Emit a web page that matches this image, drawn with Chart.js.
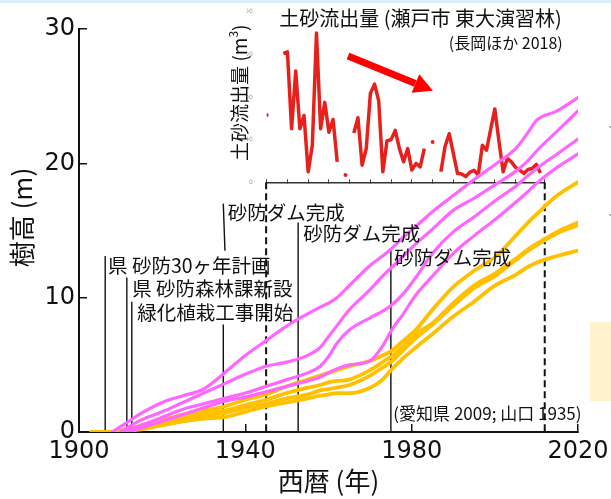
<!DOCTYPE html>
<html lang="ja">
<head>
<meta charset="utf-8">
<script src="https://cdn.jsdelivr.net/npm/chart.js@4.4.1/dist/chart.umd.min.js"></script>
<style>
  html, body { margin: 0; padding: 0; background: #fff; }
  #stage { position: relative; width: 611px; height: 499px; overflow: hidden; }
  #stage canvas { position: absolute; left: 0; top: 0; }
  #topband { position: absolute; left: 0; top: 0; width: 611px; height: 3px; background: #dbeef9; }
  #sidebox { position: absolute; left: 590px; top: 322px; width: 21px; height: 79px; background: #fff2cc; }
  .speck { position: absolute; left: 609px; width: 2px; height: 2px; background: #bbb; }
</style>
</head>
<body>
<div id="stage">
  <div id="sidebox"></div>
  <div class="speck" style="top:126px"></div>
  <div class="speck" style="top:214px"></div>
  <canvas id="inset" width="611" height="499"></canvas>
  <canvas id="main" width="611" height="499"></canvas>
  <div id="topband"></div>
</div>
<script>
// tree height curves (m)
const growthYears = [1903, 1906, 1908, 1910, 1912, 1915, 1920, 1925, 1930, 1935, 1940, 1945, 1950, 1955, 1958, 1960,
                     1962, 1965, 1970, 1973, 1975, 1978, 1981, 1985, 1990, 1995, 2000, 2005, 2008, 2010, 2015, 2020];
const pink1 = [null, null, 0, 0.4, 0.8, 1.4, 2.2, 2.7, 3.2, 4.4, 5.7, 6.8, 7.9, 8.8, 9.3, 9.6,
               10.0, 10.9, 12.4, 13.1, 13.6, 14.5, 15.3, 16.4, 17.6, 18.8, 19.9, 21.1, 22.3, 23.2, 23.9, 24.9];
const pink2 = [null, null, null, 0, 0.4, 0.9, 1.5, 2.2, 2.9, 3.6, 4.3, 4.9, 5.2, 5.7, 6.3, 7.1,
               7.9, 9.1, 10.6, 11.6, 12.2, 13.1, 14.0, 15.1, 16.5, 17.4, 18.4, 19.4, 20.2, 20.9, 22.4, 23.9];
const pink3 = [null, null, null, 0, 0.2, 0.5, 1.1, 1.7, 2.1, 2.5, 2.9, 3.4, 3.9, 4.4, 4.9, 5.6,
               6.6, 7.6, 8.5, 9.0, 9.4, 10.3, 11.5, 13.3, 14.9, 16.0, 17.2, 18.3, 19.1, 19.6, 20.7, 21.8];
const pink4 = [null, null, null, null, 0, 0.3, 0.8, 1.3, 1.8, 2.3, 2.6, 3.0, 3.4, 3.8, 4.1, 4.4,
               4.7, 5.0, 5.3, 6.4, 7.5, 8.8, 10.2, 11.6, 13.3, 14.6, 15.8, 17.1, 17.9, 18.5, 19.7, 20.7];
const orange1 = [0, 0, 0, 0.1, 0.2, 0.5, 0.9, 1.3, 1.6, 1.9, 2.4, 2.8, 3.4, 3.9, 4.2, 4.4,
                 4.6, 4.9, 5.3, 5.7, 6.0, 6.8, 7.6, 9.1, 10.8, 12.0, 13.0, 14.6, 15.6, 16.2, 17.6, 18.6];
const orange2 = [0, 0, 0, 0.1, 0.2, 0.4, 0.8, 1.1, 1.4, 1.6, 2.0, 2.4, 2.9, 3.3, 3.5, 3.7,
                 3.8, 3.9, 4.6, 5.2, 5.6, 6.4, 7.3, 8.1, 9.6, 10.9, 11.8, 12.9, 13.6, 14.0, 14.9, 15.6];
const orange3 = [0, 0, 0, 0.1, 0.1, 0.3, 0.6, 0.9, 1.2, 1.4, 1.8, 2.1, 2.5, 2.8, 3.1, 3.2,
                 3.3, 3.5, 4.2, 4.8, 5.2, 6.1, 7.0, 8.0, 9.4, 10.7, 11.6, 12.8, 13.5, 13.9, 14.8, 15.4];
const orange4 = [0, 0, 0, 0, 0.1, 0.2, 0.5, 0.8, 1.0, 1.1, 1.5, 1.9, 2.2, 2.5, 2.7, 2.8,
                 2.9, 2.9, 3.3, 3.9, 4.6, 5.5, 6.3, 7.3, 8.6, 9.7, 10.9, 11.7, 12.3, 12.6, 13.1, 13.5];
const heightTicks = [0, 10, 20, 30];
const yearTicks = [1900, 1940, 1980, 2020];

// sediment outflow (m3), inset
const insetYears = [];
for (let yr = 1945; yr <= 2011; yr++) insetYears.push(yr);
const sedimentVolume = [
  790, null, null, null, 1512, 1530, 628, 1306, 628, 783, 123, 434, 1750, 628, 937, 588, 736, 240,   // 1945-1962
  null, 85, null,                                                                                   // 1963-1965
  577, 756, 201, 395, 1042, 1151, 957, 123, 484, 500, 608, 395, 240, 395, 143, 221, 181, 395,        // 1966-1983
  null, 472, null,                                                                                  // 1984-1986
  123, 420, 570, 340, 105, 98, 67, 120, 140, 85, 434, 376, 620, 860, 480, 123, 280, 240, 175,        // 1987-2005
  143, 105, 150, 162, 210, 110                                                                      // 2006-2011
];

// events marked on the main chart
const eventLabels = ['県 砂防30ヶ年計画', '県 砂防森林課新設', '緑化植栽工事開始', '砂防ダム完成', '砂防ダム完成', '砂防ダム完成'];
const eventYears = [1906.3, 1911.5, 1912.7, 1934.7, 1952.7, 1975.0];

const JP = '"Noto Sans CJK JP", "Noto Sans", sans-serif';
const NUM = '"DejaVu Sans", Verdana, sans-serif';
const PINK = '#ff66ff';
const GOLD = '#ffc000';

const pts = vals => growthYears.map((yr, i) => ({ x: yr, y: vals[i] }));
const lineSet = (vals, color, w) => ({
  data: pts(vals), borderColor: color, borderWidth: w, pointRadius: 0,
  cubicInterpolationMode: 'monotone', borderJoinStyle: 'round', borderCapStyle: 'round'
});

// label placement: [text index, year, height] ; leader segments [x0,y0,x1,y1] in data units
const labelSpots = [[0, 1907.0, 12.4], [1, 1912.8, 10.7], [2, 1914.0, 8.9], [3, 1935.8, 16.3], [4, 1953.9, 14.8], [5, 1975.8, 13.0]];
const leaders = [
  [eventYears[0], 13.1, eventYears[0], 0],
  [eventYears[1], 11.5, eventYears[1], 0],
  [eventYears[2], 9.7, eventYears[2], 0],
  [eventYears[3], 17.0, eventYears[3] + 0.4, 13.5],
  [eventYears[3], 8.0, eventYears[3], 0],
  [eventYears[4], 15.6, eventYears[4], 0],
  [eventYears[5], 13.7, eventYears[5], 0]
];

const annotate = {
  id: 'annotate',
  beforeDatasetsDraw(chart) {
    const { ctx, scales: { x, y } } = chart;
    ctx.save();
    ctx.strokeStyle = '#111';
    ctx.lineWidth = 1.4;
    leaders.forEach(s => {
      ctx.beginPath();
      ctx.moveTo(x.getPixelForValue(s[0]), y.getPixelForValue(s[1]));
      ctx.lineTo(x.getPixelForValue(s[2]), y.getPixelForValue(s[3]));
      ctx.stroke();
    });
    // observation window of the inset
    ctx.setLineDash([7, 4]);
    ctx.lineWidth = 2;
    [1945, 2012].forEach(yr => {
      const px = x.getPixelForValue(yr);
      ctx.beginPath();
      ctx.moveTo(px, y.getPixelForValue(18.6));
      ctx.lineTo(px, y.getPixelForValue(0));
      ctx.stroke();
    });
    ctx.restore();
  },
  afterDatasetsDraw(chart) {
    const { ctx, scales: { x, y } } = chart;
    ctx.save();
    ctx.fillStyle = '#111';
    ctx.textBaseline = 'middle';
    ctx.textAlign = 'left';
    ctx.font = '19.5px ' + JP;
    labelSpots.forEach(l => ctx.fillText(eventLabels[l[0]], x.getPixelForValue(l[1]), y.getPixelForValue(l[2])));
    ctx.font = '17px ' + JP;
    ctx.fillText('(愛知県 2009; 山口 1935)', x.getPixelForValue(1975.6), y.getPixelForValue(1.4));
    ctx.restore();
  }
};

// keep label overhang from moving the plot edges
const noOverhang = s => { s.paddingLeft = 0; s.paddingRight = 0; s.paddingTop = 0; s.paddingBottom = 0; };

new Chart(document.getElementById('main'), {
  type: 'line',
  data: {
    datasets: [
      lineSet(pink1, PINK, 3.2), lineSet(pink2, PINK, 3.2), lineSet(pink3, PINK, 3.2), lineSet(pink4, PINK, 3.2),
      lineSet(orange1, GOLD, 3.8), lineSet(orange2, GOLD, 3.8), lineSet(orange3, GOLD, 3.8), lineSet(orange4, GOLD, 3.8)
    ]
  },
  options: {
    responsive: false,
    animation: false,
    layout: { padding: { left: 0, right: 33, top: 29, bottom: 0 } },
    plugins: { legend: { display: false }, tooltip: { enabled: false } },
    scales: {
      x: {
        type: 'linear', min: 1900, max: 2020,
        afterBuildTicks: s => { s.ticks = yearTicks.map(v => ({ value: v })); },
        ticks: { color: '#111', font: { family: NUM, size: 24 }, padding: 13, maxRotation: 0, callback: v => String(v) },
        grid: { drawOnChartArea: false, tickLength: -8, color: '#111', lineWidth: 1.5 },
        border: { color: '#111', width: 2 },
        title: { display: true, text: '西暦 (年)', color: '#111', font: { family: JP, size: 26 }, padding: { top: 0, bottom: 2 } },
        afterFit: s => { s.height = 67; noOverhang(s); }
      },
      y: {
        min: 0, max: 30,
        afterBuildTicks: s => { s.ticks = heightTicks.map(v => ({ value: v })); },
        ticks: { color: '#111', font: { family: NUM, size: 24 }, padding: 12 },
        grid: { drawOnChartArea: false, tickLength: -8, color: '#111', lineWidth: 1.5 },
        border: { color: '#111', width: 2 },
        // leading ideographic space nudges the title up a little, as in the original
        title: { display: true, text: '\u3000樹高 (m)', color: '#111', font: { family: JP, size: 26 }, padding: { top: 7, bottom: 0 } },
        afterFit: s => { s.width = 79; noOverhang(s); }
      }
    }
  },
  plugins: [annotate]
});

const insetDeco = {
  id: 'insetDeco',
  afterDraw(chart) {
    const { ctx, chartArea: a, scales: { x, y } } = chart;
    ctx.save();
    ctx.fillStyle = '#111';
    ctx.textBaseline = 'middle';
    ctx.textAlign = 'right';
    ctx.font = '20px ' + JP;
    ctx.fillText('土砂流出量 (瀬戸市 東大演習林)', a.left + 295, a.top + 6.5);
    ctx.font = '16px ' + JP;
    ctx.fillText('(長岡ほか 2018)', a.left + 296, a.top + 31.5);

    // rotated axis title with superscript
    ctx.textAlign = 'left';
    ctx.translate(a.left - 27, a.top + 81);
    ctx.rotate(-Math.PI / 2);
    ctx.font = '19px ' + JP;
    const head = '土砂流出量 (m', tail = ')';
    const wh = ctx.measureText(head).width, wt = ctx.measureText(tail).width;
    ctx.font = '12px ' + JP;
    const ws = ctx.measureText('3').width;
    let cx = -(wh + ws + wt) / 2;
    ctx.font = '19px ' + JP;
    ctx.fillText(head, cx, 0);
    ctx.font = '12px ' + JP;
    ctx.fillText('3', cx + wh, -6);
    ctx.font = '19px ' + JP;
    ctx.fillText(tail, cx + wh + ws, 0);
    ctx.restore();

    // trend arrow
    const x0 = x.getPixelForValue(1964.6), y0 = y.getPixelForValue(1480);
    const x1 = x.getPixelForValue(1985.1), y1 = y.getPixelForValue(1073);
    const ang = Math.atan2(y1 - y0, x1 - x0);
    const hl = 19, hw = 10;
    const bx = x1 - hl * Math.cos(ang), by = y1 - hl * Math.sin(ang);
    ctx.save();
    ctx.strokeStyle = '#ff0000';
    ctx.fillStyle = '#ff0000';
    ctx.lineWidth = 7;
    ctx.beginPath();
    ctx.moveTo(x0, y0);
    ctx.lineTo(bx, by);
    ctx.stroke();
    ctx.beginPath();
    ctx.moveTo(x1, y1);
    ctx.lineTo(bx + hw * Math.sin(ang), by - hw * Math.cos(ang));
    ctx.lineTo(bx - hw * Math.sin(ang), by + hw * Math.cos(ang));
    ctx.closePath();
    ctx.fill();
    ctx.restore();
  }
};

new Chart(document.getElementById('inset'), {
  type: 'line',
  data: {
    datasets: [{
      data: insetYears.map((yr, i) => ({ x: yr, y: sedimentVolume[i] })),
      borderColor: '#e8201c', borderWidth: 3.5, tension: 0, spanGaps: false,
      borderJoinStyle: 'round',
      pointBackgroundColor: '#e8201c', pointBorderWidth: 0,
      pointRadius: ctx => {
        const i = ctx.dataIndex, v = sedimentVolume;
        return v[i] != null && v[i - 1] == null && v[i + 1] == null ? 2 : 0;
      }
    }]
  },
  options: {
    responsive: false,
    animation: false,
    layout: { padding: { left: 246.7, right: 66.4, top: 11.7, bottom: 316.7 } },
    plugins: { legend: { display: false }, tooltip: { enabled: false } },
    scales: {
      x: {
        type: 'linear', min: 1945, max: 2012,
        ticks: { display: false, stepSize: 5 },
        grid: { drawOnChartArea: false, tickLength: -3, color: '#444', lineWidth: 1 },
        border: { color: '#333', width: 1.5 },
        afterFit: s => { s.height = 0; noOverhang(s); }
      },
      y: {
        min: 0, max: 2000,
        ticks: { stepSize: 500, color: '#999', font: { family: NUM, size: 6 }, padding: 6 },
        grid: { display: false },
        border: { display: false },
        afterFit: s => { s.width = 20; noOverhang(s); }
      }
    }
  },
  plugins: [insetDeco]
});
</script>
</body>
</html>
